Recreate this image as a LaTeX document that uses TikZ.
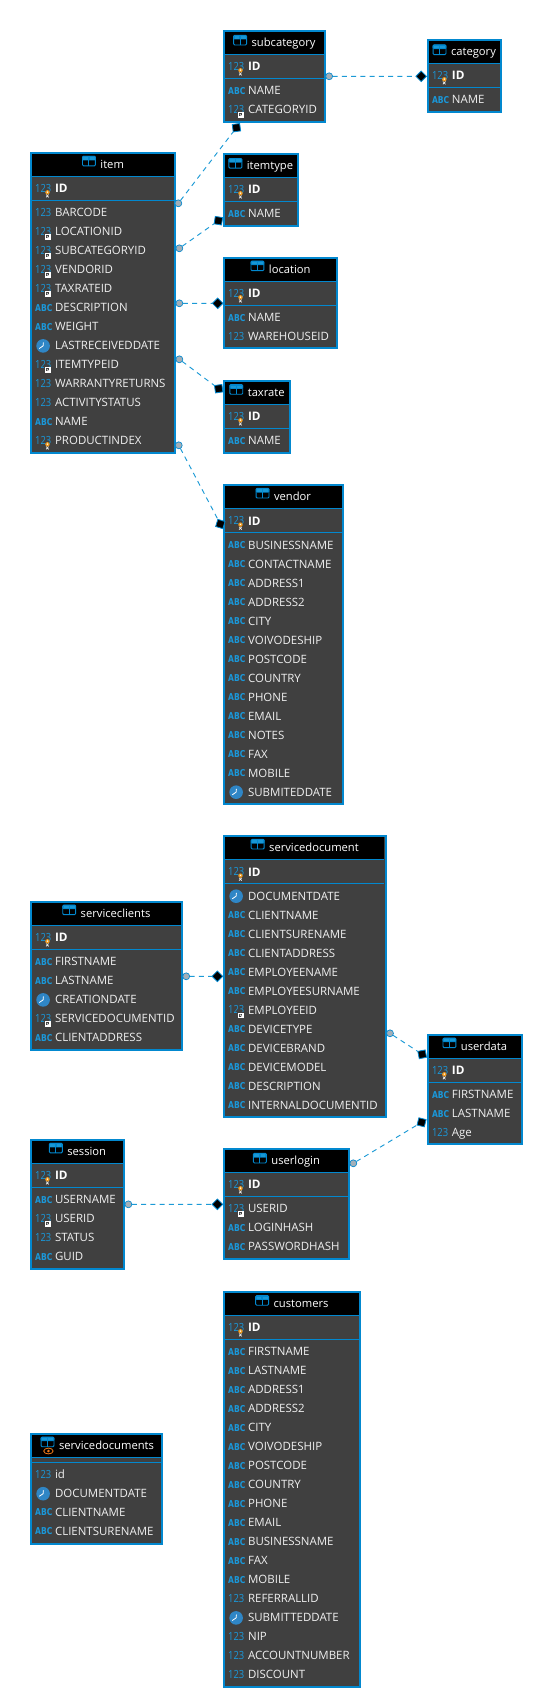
\documentclass[tikz,border=0pt]{standalone}
\usepackage{fontspec}
\setmainfont{Open Sans}
\newfontfamily\abcfont[FakeStretch=0.8]{DejaVu Sans}
\newfontfamily\numfont[FakeStretch=0.84]{Open Sans}
\definecolor{edgeblue}{HTML}{0288CF}
\definecolor{bodygrey}{HTML}{404040}
\definecolor{rowtxt}{HTML}{F0F0F0}
\definecolor{numblue}{HTML}{1A98DA}
\definecolor{clockblue}{HTML}{2F86C6}
\definecolor{keyorange}{HTML}{F09A1E}
\definecolor{dotgrey}{HTML}{A3AFB8}
\definecolor{linkblue}{HTML}{1C9AD6}
\tikzset{
  x=0.7643pt,y=-0.75pt,
  tblbox/.style={draw=edgeblue,fill=bodygrey,line width=1.5pt,inner sep=0pt,outer sep=0pt},
  titletxt/.style={text=white,inner sep=0pt,anchor=base,font=\fontsize{8.4pt}{10pt}\selectfont},
  rowtext/.style={text=rowtxt,inner sep=0pt,anchor=base west,font=\fontsize{8.6pt}{10pt}\selectfont},
  idtext/.style={rowtext,text=white,font=\fontsize{8.8pt}{10pt}\selectfont\bfseries},
  numico/.style={text=numblue,inner sep=0pt,anchor=base west,font=\numfont\fontsize{8.4pt}{10pt}\selectfont},
  abcico/.style={text=numblue,inner sep=0pt,anchor=base west,font=\abcfont\bfseries\fontsize{7.1pt}{8pt}\selectfont},
  srcdot/.style={circle,draw=edgeblue,fill=dotgrey,line width=0.5pt,minimum size=5.2pt,inner sep=0pt,outer sep=0pt},
  enddiam/.style={rectangle,draw=edgeblue,fill=black,line width=0.6pt,minimum size=5.6pt,inner sep=0pt,outer sep=0pt},
  linkline/.style={linkblue,line width=0.7pt,dash pattern=on 3.75pt off 3.2pt},
}
% row icons: #1 table x1, #2 row y, #3 name
\newcommand\icnn[3]{\node[numico] (#3) at (#1+5,#2+4.1) {123};}
\newcommand\icna[3]{\node[abcico] (#3) at (#1+5,#2+3.6) {ABC};}
\newcommand\icnc[3]{%
  \node[circle,fill=clockblue,minimum size=10.2pt,inner sep=0pt] (#3) at (#1+13,#2+0.4) {};
  \draw[white,line width=0.6pt] (#3.center) -- ++(0.3,-3.4);
  \draw[white,line width=0.6pt] (#3.center) -- ++(-3.8,2.6);}
\newcommand\icnf[3]{\icnn{#1}{#2}{#3}%
  \fill[bodygrey] (#1+14.2,#2+2.2) rectangle (#1+21.2,#2+9);
  \fill[white] (#1+14.8,#2+2.8) rectangle (#1+20.4,#2+8.2);
  \fill[bodygrey] (#1+15.9,#2+3.9) rectangle (#1+19.2,#2+6.9);
  \draw[white,line width=0.6pt] (#1+16.8,#2+4.9) -- (#1+20,#2+8);}
\newcommand\icnk[3]{\icnn{#1}{#2}{#3}%
  \draw[rowtxt,line width=0.5pt] (#1+15.9,#2+8.8) -- (#1+18.5,#2+6) (#1+18.5,#2+8.8) -- (#1+15.9,#2+6);
  \fill[keyorange] (#1+17.3,#2+3.8) circle[radius=2.2];
  \fill[white] (#1+17.3,#2+3.6) circle[radius=0.8];}
% table icon left of a title node: #1 title node name
\newcommand\ticon[1]{%
  \begin{scope}[shift={(#1.west)},xshift=-13.5pt]
    \fill[black] (0,-8.6) rectangle (13.3,1.6);
    \fill[edgeblue,rounded corners=0.8pt] (0,-8.6) rectangle (13.3,-4.2);
    \fill[cyan!55!edgeblue] (1.2,-7.4) rectangle (6,-5);
    \fill[cyan!55!edgeblue] (7.3,-7.4) rectangle (12.1,-5);
    \draw[edgeblue,line width=0.7pt,rounded corners=0.8pt] (.3,-8.3) rectangle (13,1.3);
    \draw[edgeblue,line width=0.7pt] (6.65,-4.6) -- (6.65,1.3);
  \end{scope}}
\newcommand\tblframe[5]{%
  \pgfmathsetmacro\cx{(#2+#3)/2}\pgfmathsetmacro\cy{(#4+#5)/2}%
  \pgfmathsetmacro\ww{(#3-#2)*0.7643-1.5}\pgfmathsetmacro\hh{(#5-#4-2)*0.75}%
  \node[tblbox,minimum width=\ww pt,minimum height=\hh pt] (#1) at (\cx,\cy) {};
  \fill[black] (#2+2,#4+2) rectangle (#3-2,#4+24);
  \draw[edgeblue,line width=0.75pt] (#2+2,#4+24.5) -- (#3-2,#4+24.5);}
\newcommand\tblrows[5]{% name,x1,y0,pitch,rows
  \foreach \ty/\tx [count=\i from 0] in {#5} {
    \pgfmathsetmacro\yy{#3+\i*#4}
    \csname icn\ty\endcsname{#2}{\yy}{#1-ic\i}
    \node[rowtext] (#1-\i) at (#2+24.5,\yy+4.2) {\tx};
  }}
% name,x1,x2,top,bottom,pitch,title,rows
\newcommand\tbl[8]{%
  \tblframe{#1}{#2}{#3}{#4}{#5}
  \node[titletxt] (#1-title) at ({(#2+#3)/2+9.1},#4+16.6) {#7};
  \ticon{#1-title}
  \node[idtext] (#1-id) at (#2+24.5,#4+40.7) {ID};
  \icnk{#2}{#4+36.5}{#1-idic}
  \draw[edgeblue,line width=0.75pt] (#2+2,#4+48.5) -- (#3-2,#4+48.5);
  \tblrows{#1}{#2}{#4+60.5}{#6}{#8}}
\begin{document}
\begin{tikzpicture}
\useasboundingbox[fill=white] (0,0) rectangle (523.06,1698);

\tbl{subcategory}{218.7}{319.7}{30}{122.7}{19}{subcategory}{a/NAME,f/CATEGORYID}
\tbl{category}{418.7}{492.3}{39}{112.7}{19}{category}{a/NAME}
\tbl{item}{29.3}{172.7}{152}{453.5}{19}{item}{n/BARCODE,f/LOCATIONID,f/SUBCATEGORYID,f/VENDORID,f/TAXRATEID,a/DESCRIPTION,a/WEIGHT,c/LASTRECEIVEDDATE,f/ITEMTYPEID,n/WARRANTYRETURNS,n/ACTIVITYSTATUS,a/NAME,k/PRODUCTINDEX}
\tbl{itemtype}{218.7}{293}{153}{226.7}{19}{itemtype}{a/NAME}
\tbl{location}{218.7}{331.7}{257}{349.3}{19}{location}{a/NAME,n/WAREHOUSEID}
\tbl{taxrate}{218.7}{285.6}{380}{453.7}{19}{taxrate}{a/NAME}
\tbl{vendor}{218.7}{337.2}{484.3}{804.6}{19}{vendor}{a/BUSINESSNAME,a/CONTACTNAME,a/ADDRESS1,a/ADDRESS2,a/CITY,a/VOIVODESHIP,a/POSTCODE,a/COUNTRY,a/PHONE,a/EMAIL,a/NOTES,a/FAX,a/MOBILE,c/SUBMITEDDATE}
\tbl{servicedocument}{218.7}{379.3}{835.3}{1118}{19}{servicedocument}{c/DOCUMENTDATE,a/CLIENTNAME,a/CLIENTSURENAME,a/CLIENTADDRESS,a/EMPLOYEENAME,a/EMPLOYEESURNAME,f/EMPLOYEEID,a/DEVICETYPE,a/DEVICEBRAND,a/DEVICEMODEL,a/DESCRIPTION,a/INTERNALDOCUMENTID}
\tbl{serviceclients}{29.3}{179.3}{901}{1050.7}{19}{serviceclients}{a/FIRSTNAME,a/LASTNAME,c/CREATIONDATE,f/SERVICEDOCUMENTID,a/CLIENTADDRESS}
\tbl{userdata}{418.7}{513}{1034}{1145.3}{19}{userdata}{a/FIRSTNAME,a/LASTNAME,n/Age}
\tbl{session}{29.3}{122.7}{1139}{1269.7}{19}{session}{a/USERNAME,f/USERID,n/STATUS,a/GUID}
\tbl{userlogin}{218.7}{343.3}{1148}{1259.7}{19}{userlogin}{f/USERID,a/LOGINHASH,a/PASSWORDHASH}
\tbl{customers}{218.7}{354}{1291}{1687.7}{19}{customers}{a/FIRSTNAME,a/LASTNAME,a/ADDRESS1,a/ADDRESS2,a/CITY,a/VOIVODESHIP,a/POSTCODE,a/COUNTRY,a/PHONE,a/EMAIL,a/BUSINESSNAME,a/FAX,a/MOBILE,n/REFERRALLID,c/SUBMITTEDDATE,n/NIP,n/ACCOUNTNUMBER,n/DISCOUNT}

% view table
\tblframe{servicedocuments}{29.3}{160}{1433}{1545}
\node[titletxt] (servicedocuments-title) at (104.5,1449.6) {servicedocuments};
\ticon{servicedocuments-title}
\draw[keyorange!80!red,line width=0.6pt] (47.5,1451) ellipse[x radius=4.6,y radius=2.9];
\fill[keyorange!80!red] (47.5,1451) circle[radius=1.4];
\draw[edgeblue,line width=0.75pt] (31.3,1462.3) -- (158,1462.3);
\tblrows{servicedocuments}{29.3}{1474.3}{19}{n/id,c/DOCUMENTDATE,a/CLIENTNAME,a/CLIENTSURENAME}

% connectors
\node[srcdot] (c1) at (323,76.3) {};
\node[enddiam,rotate=45] (d1) at (413.3,76.3) {};
\node[srcdot] (c2) at (175,203.3) {};
\node[enddiam,rotate=98] (d2) at (232,127.7) {};
\node[srcdot] (c3) at (176,248.3) {};
\node[enddiam,rotate=81] (d3) at (214.3,220.7) {};
\node[srcdot] (c4) at (176,303.3) {};
\node[enddiam,rotate=45] (d4) at (213.6,303.3) {};
\node[srcdot] (c5) at (176,359.3) {};
\node[enddiam,rotate=8] (d5) at (214.6,388.7) {};
\node[srcdot] (c6) at (175.4,445.3) {};
\node[enddiam,rotate=-17] (d6) at (216.2,524) {};
\node[srcdot] (c7) at (182.7,976.3) {};
\node[enddiam,rotate=45] (d7) at (213.3,976.3) {};
\node[srcdot] (c8) at (382.7,1033.3) {};
\node[enddiam,rotate=11] (d8) at (414.3,1054.3) {};
\node[srcdot] (c9) at (346.7,1163.3) {};
\node[enddiam,rotate=76] (d9) at (413.7,1122.3) {};
\node[srcdot] (c10) at (126,1204.3) {};
\node[enddiam,rotate=45] (d10) at (213.3,1204.3) {};
\foreach \k in {1,...,10} \draw[linkline] (c\k) -- (d\k);
\end{tikzpicture}
\end{document}
